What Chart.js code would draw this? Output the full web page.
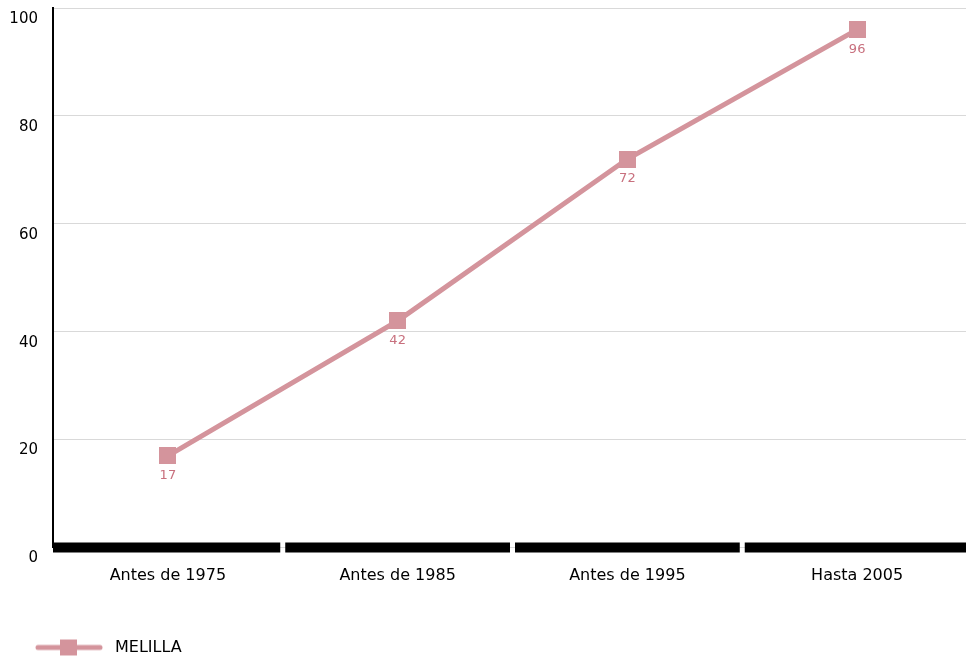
<!DOCTYPE html>
<html>
<head>
<meta charset="utf-8">
<script src="https://cdn.jsdelivr.net/npm/chart.js@4.4.1/dist/chart.umd.min.js"></script>
<style>
  html, body { margin: 0; padding: 0; background: #fff; overflow: hidden; }
  #wrap { width: 966px; height: 657px; overflow: hidden; }
  canvas { display: block; }
</style>
</head>
<body>
<div id="wrap"><canvas id="c" width="973" height="657"></canvas></div>
<script>
const categories = ['Antes de 1975', 'Antes de 1985', 'Antes de 1995', 'Hasta 2005'];
const seriesName = 'MELILLA';
const seriesValues = [17, 42, 72, 96];
const yTicks = [0, 20, 40, 60, 80, 100];

const LINE_COLOR = '#d4949c';
const LABEL_COLOR = '#c8707e';
const FONT = '"DejaVu Sans", Verdana, sans-serif';

// square point marker
const pointImg = document.createElement('canvas');
pointImg.width = 17; pointImg.height = 17;
(function () {
  const m = pointImg.getContext('2d');
  m.fillStyle = LINE_COLOR;
  m.fillRect(0, 0, 17, 17);
})();

// legend marker: line with a square
const marker = document.createElement('canvas');
marker.width = 100; marker.height = 20;
(function () {
  const m = marker.getContext('2d');
  m.strokeStyle = LINE_COLOR;
  m.lineWidth = 5;
  m.lineCap = 'round';
  m.beginPath(); m.moveTo(32, 10); m.lineTo(94, 10); m.stroke();
  m.fillStyle = LINE_COLOR;
  m.fillRect(54, 2, 17, 16);
})();

const valueLabels = {
  id: 'valueLabels',
  afterDatasetsDraw(chart) {
    const ctx = chart.ctx;
    ctx.save();
    ctx.font = '13px ' + FONT;
    ctx.fillStyle = LABEL_COLOR;
    ctx.textAlign = 'center';
    ctx.textBaseline = 'middle';
    chart.data.datasets.forEach((ds, di) => {
      const meta = chart.getDatasetMeta(di);
      meta.data.forEach((el, i) => {
        ctx.fillText(String(ds.data[i]), el.x, el.y + 20);
      });
    });
    ctx.restore();
  }
};

// thick baseline split into one segment per category
const segmentedBase = {
  id: 'segmentedBase',
  beforeDatasetsDraw(chart) {
    const x = chart.scales.x, y = chart.scales.y;
    const ctx = chart.ctx;
    const base = y.getPixelForValue(0);
    const n = categories.length;
    const step = n > 1 ? x.getPixelForValue(1) - x.getPixelForValue(0) : x.width;
    const gap = 2.5;
    ctx.save();
    ctx.fillStyle = '#000';
    for (let i = 0; i < n; i++) {
      const c = x.getPixelForValue(i);
      const l = i === 0 ? chart.chartArea.left : c - step / 2 + gap;
      const r = i === n - 1 ? chart.chartArea.right : c + step / 2 - gap;
      ctx.fillRect(l, base - 5, r - l, 10);
    }
    ctx.restore();
  }
};

new Chart(document.getElementById('c'), {
  type: 'line',
  data: {
    labels: categories,
    datasets: [{
      label: seriesName,
      data: seriesValues,
      borderColor: LINE_COLOR,
      backgroundColor: LINE_COLOR,
      borderWidth: 5,
      tension: 0,
      pointStyle: pointImg,
      pointRadius: 1,
      pointHoverRadius: 1,
      pointBorderWidth: 0,
      pointBackgroundColor: LINE_COLOR
    }]
  },
  options: {
    responsive: false,
    animation: false,
    devicePixelRatio: 1,
    layout: { padding: { left: 3, top: 8, right: 0, bottom: -8.5 } },
    plugins: {
      tooltip: { enabled: false },
      legend: {
        position: 'bottom',
        align: 'start',
        labels: {
          usePointStyle: true,
          pointStyle: marker,
          pointStyleWidth: 102,
          padding: 2,
          color: '#000',
          font: { family: FONT, size: 16 }
        }
      }
    },
    scales: {
      x: {
        type: 'category',
        offset: true,
        grid: { display: false, drawTicks: false },
        border: { display: false },
        ticks: { color: '#000', font: { family: FONT, size: 16 }, padding: 19, maxRotation: 0 },
        afterFit(s) { s.height = 90; s.paddingLeft = 0; s.paddingRight = 0; }
      },
      y: {
        min: 0,
        max: 100,
        afterBuildTicks(s) { s.ticks = yTicks.map(v => ({ value: v })); },
        grid: { color: '#d9d9d9', lineWidth: 1, drawTicks: false },
        border: { display: true, color: '#000', width: 2 },
        ticks: { color: '#000', font: { family: FONT, size: 15 }, padding: 15, labelOffset: 11 },
        afterFit(s) { s.width = 50; s.paddingTop = 0; s.paddingBottom = 0; }
      }
    }
  },
  plugins: [segmentedBase, valueLabels]
});
</script>
</body>
</html>
